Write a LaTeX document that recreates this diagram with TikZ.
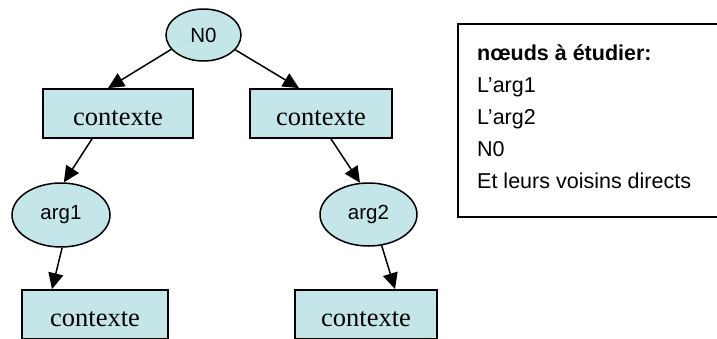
\documentclass[tikz,border=0pt]{standalone}
\usepackage{fontspec}
\setmainfont{Liberation Serif}
\setsansfont{Liberation Sans}
\usetikzlibrary{shapes.geometric,arrows.meta}
\definecolor{bleuclair}{RGB}{197,230,233}
\tikzset{
  contexte/.style={draw, fill=bleuclair, line width=1.8pt, inner sep=0pt, minimum height=49pt,
    text height=23pt, text depth=0pt, font=\fontsize{26.5}{30}\selectfont},
  noeud/.style={ellipse, draw, fill=bleuclair, line width=1.5pt, inner sep=0pt,
    font=\sffamily\fontsize{20.5}{24}\selectfont},
  fleche/.style={-{Triangle[length=16pt,width=15pt]}, line width=1.5pt},
  liste/.style={anchor=base west, inner sep=0pt, font=\sffamily\fontsize{21.5}{26}\selectfont}
}
\begin{document}
\begin{tikzpicture}[x=1pt,y=-1pt]
                    \useasboundingbox (0,0) rectangle (717,338);
                    \clip (0,0) rectangle (717,338);
                    % arbre
                    \node (n0) [noeud, minimum width=75pt, minimum height=52pt] at (203.5,35) {N0};
                    \node (ctxg) [contexte, minimum width=150pt] at (118,113.5) {contexte};
                    \node (ctxd) [contexte, minimum width=142pt] at (321,113.5) {contexte};
                    \node (arg1) [noeud, minimum width=98pt, minimum height=64pt] at (61,215) {arg1};
                    \node (arg2) [noeud, minimum width=97pt, minimum height=63pt] at (368.5,214.5) {arg2};
                    \node (ctxgb) [contexte, minimum width=146pt] at (95,314.5) {contexte};
                    \node (ctxdb) [contexte, minimum width=142pt] at (366,314.5) {contexte};
                    \draw[fleche] (n0.204) -- ([xshift=-10pt]ctxg.north);
                    \draw[fleche] (n0.335) -- ([xshift=-22pt]ctxd.north);
                    \draw[fleche] ([xshift=-26pt]ctxg.south) -- (arg1.85);
                    \draw[fleche] ([xshift=10pt]ctxd.south) -- (arg2.105);
                    \draw[fleche] (arg1.-88) -- ([xshift=-43pt]ctxgb.north);
                    \draw[fleche] (arg2.-67) -- ([xshift=29pt]ctxdb.north);
                    % encadre
                    \node (cadre) [draw, line width=1.6pt, anchor=north west, minimum width=300pt,
                      minimum height=193pt, inner sep=0pt] at (457,23) {};
                    \node (l1) [liste] at (477,60) {\textbf{nœuds à étudier:}};
                    \node (l2) [liste] at (477,92) {L’arg1};
                    \node (l3) [liste] at (477,124) {L’arg2};
                    \node (l4) [liste] at (477,156) {N0};
                    \node (l5) [liste] at (477,188) {Et leurs voisins directs};
                \end{tikzpicture}
\end{document}
